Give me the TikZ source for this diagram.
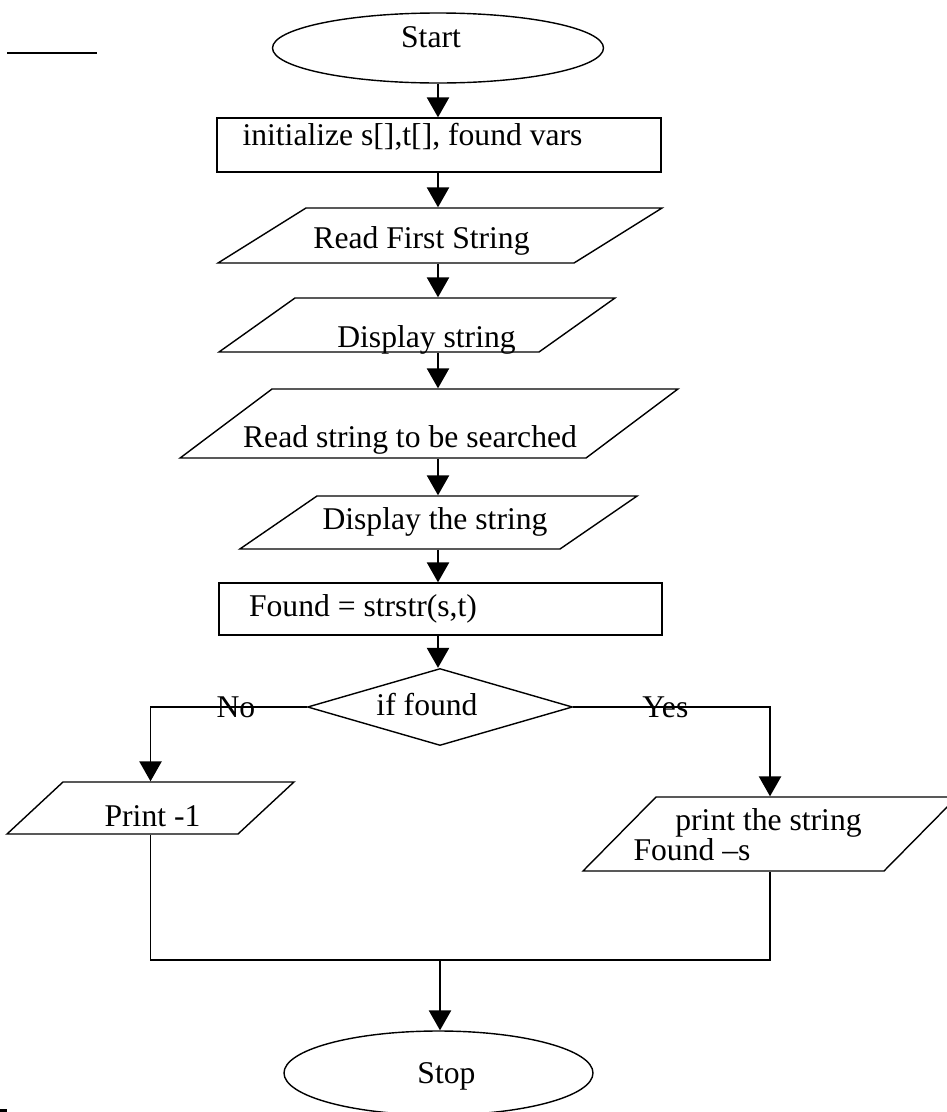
\documentclass[tikz,border=0pt]{standalone}
\usepackage{fontspec}
\setmainfont{Liberation Serif}
\usetikzlibrary{shapes.geometric,arrows.meta}

\begin{document}
\begin{tikzpicture}[x=0.03cm,y=-0.03cm,line width=1.2pt,
    font=\fontsize{27}{32}\selectfont,
    >={Triangle[length=17pt,width=19pt]},
    term/.style={ellipse,draw,inner sep=0pt},
    proc/.style={rectangle,draw,inner sep=0pt},
    io/.style={trapezium,draw,inner sep=0pt,text depth=0pt},
    decision/.style={diamond,draw,inner sep=0pt},
    txt/.style={text height=18pt,text depth=0pt,inner sep=0pt},
    every label/.style=txt]
  \useasboundingbox (0,0) rectangle (947,1112);
  \draw (7,53) -- (97,53);
  \fill (0,1109) rectangle (7,1112);

  \node[term,minimum width=9.93cm,minimum height=2.1cm,
        label={[shift={(-7,-11)}]center:Start}] (start) at (438,48) {};
  \node[proc,minimum width=13.32cm,minimum height=1.62cm,
        label={[shift={(-26.5,-10)}]center:initialize s[],t[], found vars}] (init) at (439,145) {};
  \node[io,trapezium left angle=32,trapezium right angle=148,
        text width=8.04cm,text height=1.65cm,
        label={[shift={(-18.5,2.5)}]center:Read First String}] (read1) at (440,235.5) {};
  \node[io,trapezium left angle=35.4,trapezium right angle=144.6,
        text width=7.32cm,text height=1.62cm,
        label={[shift={(9.5,12)}]center:Display string}] (disp1) at (417,325) {};
  \node[io,trapezium left angle=36.9,trapezium right angle=143.1,
        text width=9.42cm,text height=2.07cm,
        label={[shift={(-19,13.5)}]center:Read string to be searched}] (read2) at (429,423.5) {};
  \node[io,trapezium left angle=34.5,trapezium right angle=145.5,
        text width=7.29cm,text height=1.59cm,
        label={[shift={(-3.5,-3.5)}]center:Display the string}] (disp2) at (438.5,522.5) {};
  \node[proc,minimum width=13.29cm,minimum height=1.56cm,
        label={[shift={(-77.5,-3)}]center:Found = strstr(s,t)}] (found) at (440.5,609) {};
  \node[decision,minimum width=7.95cm,minimum height=2.31cm,
        label={[shift={(-13,-2)}]center:if found}] (dec) at (440,707) {};
  \node[io,trapezium left angle=42.9,trapezium right angle=137.1,
        text width=5.25cm,text height=1.56cm,
        label={[shift={(2,8)}]center:Print -1}] (print1) at (150.5,808) {};
  \node[io,trapezium left angle=45.4,trapezium right angle=134.6,
        text width=6.84cm,text height=2.22cm,
        label={[shift={(-1.5,-14)}]center:print the string},
        label={[shift={(-78,16)}]center:Found --s}] (print2) at (770,834) {};
  \node[term,minimum width=9.27cm,minimum height=2.52cm,
        label={[shift={(8,0)}]center:Stop}] (stop) at (438.5,1073) {};
  \coordinate (join) at (440,960);

  \draw[->] (start.south) -- (start.south |- init.north);
  \draw[->] (init.south -| start) -- (read1.north -| start);
  \draw[->] (read1.south -| start) -- (disp1.north -| start);
  \draw[->] (disp1.south -| start) -- (read2.north -| start);
  \draw[->] (read2.south -| start) -- (disp2.north -| start);
  \draw[->] (disp2.south -| start) -- (found.north -| start);
  \draw[->] (found.south -| start) -- (dec.north -| start);
  \draw[->] (dec.west) -| node[txt,pos=0.227] {No} (print1.north);
  \draw[->] (dec.east) -| node[txt,pos=0.234] {Yes} (print2.north);
  \draw (print1.south) |- (join) -| (print2.south);
  \draw[->] (join) -- (join |- stop.north);
\end{tikzpicture}
\end{document}
